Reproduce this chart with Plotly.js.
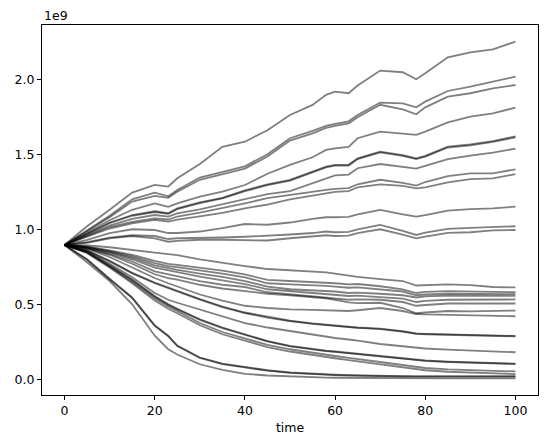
<!DOCTYPE html>
<html>
<head>
<meta charset="utf-8">
<script src="https://cdn.plot.ly/plotly-3.0.1.min.js"></script>
<style>html,body{margin:0;padding:0;background:#fff;}#chart{width:547px;height:448px;}</style>
</head>
<body>
<div id="chart"></div>
<script>
const time = [0,5,10,15,20,23,25,30,35,40,45,50,55,58,60,63,65,70,75,78,80,85,90,95,100];

// values in units of 1e9
const u1  = [0.895,1.02,1.13,1.245,1.296,1.285,1.34,1.435,1.55,1.584,1.66,1.762,1.829,1.896,1.918,1.907,1.958,2.058,2.047,2.0,2.04,2.147,2.18,2.2,2.251];
const u2  = [0.895,0.995,1.09,1.2,1.244,1.22,1.262,1.345,1.385,1.42,1.5,1.607,1.656,1.689,1.702,1.72,1.762,1.845,1.84,1.813,1.851,1.922,1.951,1.984,2.017];
const u3  = [0.895,0.99,1.08,1.185,1.222,1.21,1.25,1.33,1.365,1.405,1.485,1.591,1.64,1.676,1.689,1.706,1.747,1.83,1.8,1.767,1.813,1.884,1.907,1.94,1.962];
const u4  = [0.895,0.98,1.06,1.13,1.173,1.15,1.173,1.218,1.251,1.295,1.37,1.429,1.48,1.529,1.54,1.55,1.607,1.651,1.64,1.629,1.651,1.713,1.751,1.773,1.811];
const u5  = [0.895,0.97,1.045,1.095,1.12,1.107,1.14,1.18,1.21,1.26,1.3,1.329,1.384,1.418,1.429,1.43,1.473,1.518,1.495,1.473,1.49,1.551,1.566,1.588,1.62];
const u6  = [0.895,0.968,1.04,1.09,1.115,1.103,1.134,1.175,1.206,1.254,1.294,1.324,1.378,1.412,1.424,1.425,1.468,1.512,1.49,1.468,1.485,1.545,1.56,1.583,1.612];
const u7  = [0.895,0.96,1.025,1.07,1.095,1.084,1.106,1.132,1.166,1.205,1.235,1.255,1.307,1.34,1.36,1.365,1.407,1.435,1.418,1.404,1.422,1.467,1.491,1.511,1.537];
const u8  = [0.895,0.955,1.015,1.05,1.073,1.065,1.085,1.111,1.14,1.173,1.207,1.23,1.25,1.262,1.27,1.275,1.3,1.33,1.31,1.291,1.315,1.355,1.373,1.373,1.4];
const u9  = [0.895,0.95,1.005,1.04,1.062,1.051,1.065,1.086,1.11,1.14,1.165,1.2,1.225,1.24,1.25,1.255,1.28,1.3,1.29,1.273,1.28,1.313,1.335,1.34,1.367];
const u10 = [0.895,0.93,0.975,1.0,0.995,0.975,0.975,0.985,1.007,1.035,1.03,1.045,1.07,1.08,1.08,1.082,1.1,1.129,1.1,1.084,1.095,1.124,1.135,1.14,1.151];
const u11 = [0.895,0.915,0.945,0.96,0.955,0.935,0.94,0.94,0.945,0.95,0.955,0.965,0.975,0.985,0.98,0.982,1.0,1.029,0.99,0.962,0.978,1.002,1.009,1.015,1.02];
const u12 = [0.895,0.91,0.94,0.955,0.94,0.917,0.922,0.93,0.93,0.925,0.925,0.94,0.95,0.96,0.955,0.957,0.975,1.0,0.965,0.94,0.951,0.976,0.98,0.993,0.995];

const l1  = [0.895,0.892,0.88,0.865,0.845,0.835,0.828,0.8,0.775,0.755,0.735,0.728,0.72,0.712,0.705,0.69,0.683,0.668,0.655,0.625,0.628,0.632,0.627,0.615,0.612];
const l2  = [0.895,0.885,0.86,0.83,0.79,0.77,0.762,0.745,0.725,0.7,0.662,0.655,0.65,0.645,0.64,0.632,0.635,0.62,0.6,0.575,0.582,0.588,0.585,0.582,0.58];
const l3  = [0.895,0.883,0.855,0.82,0.775,0.755,0.748,0.728,0.705,0.68,0.64,0.632,0.628,0.622,0.618,0.61,0.612,0.6,0.585,0.56,0.565,0.57,0.568,0.566,0.568];
const l4  = [0.895,0.88,0.85,0.81,0.76,0.74,0.73,0.705,0.683,0.655,0.618,0.6,0.595,0.59,0.585,0.575,0.578,0.57,0.56,0.545,0.552,0.558,0.556,0.555,0.556];
const l5  = [0.895,0.878,0.845,0.8,0.745,0.725,0.715,0.685,0.66,0.635,0.6,0.588,0.578,0.57,0.565,0.555,0.557,0.55,0.538,0.515,0.522,0.53,0.53,0.528,0.532];
const l6  = [0.895,0.875,0.835,0.785,0.72,0.7,0.69,0.655,0.63,0.615,0.58,0.565,0.553,0.546,0.54,0.53,0.532,0.53,0.515,0.49,0.495,0.505,0.505,0.503,0.505];
const l7  = [0.895,0.873,0.83,0.77,0.7,0.675,0.665,0.63,0.605,0.585,0.57,0.56,0.55,0.54,0.529,0.512,0.507,0.51,0.475,0.44,0.445,0.455,0.452,0.455,0.458];
const l8  = [0.895,0.87,0.815,0.745,0.675,0.64,0.62,0.565,0.525,0.49,0.475,0.466,0.463,0.46,0.46,0.455,0.46,0.475,0.455,0.435,0.432,0.43,0.425,0.422,0.42];
const l9  = [0.895,0.86,0.79,0.71,0.645,0.61,0.59,0.535,0.485,0.445,0.415,0.39,0.372,0.362,0.357,0.35,0.345,0.337,0.32,0.305,0.303,0.3,0.296,0.292,0.289];
const l10 = [0.895,0.857,0.786,0.706,0.64,0.606,0.586,0.531,0.481,0.441,0.411,0.387,0.369,0.359,0.354,0.347,0.342,0.334,0.317,0.302,0.3,0.297,0.293,0.289,0.286];
const l11 = [0.895,0.855,0.77,0.68,0.575,0.53,0.51,0.465,0.42,0.375,0.345,0.32,0.295,0.285,0.275,0.265,0.258,0.235,0.218,0.207,0.205,0.198,0.192,0.186,0.18];
const l12 = [0.895,0.85,0.76,0.665,0.555,0.5,0.47,0.4,0.345,0.3,0.255,0.222,0.2,0.19,0.185,0.175,0.17,0.155,0.14,0.128,0.125,0.118,0.113,0.108,0.104];
const l13 = [0.895,0.848,0.756,0.66,0.55,0.496,0.466,0.396,0.341,0.296,0.252,0.219,0.197,0.187,0.182,0.172,0.167,0.152,0.137,0.125,0.122,0.115,0.11,0.105,0.101];
const l14 = [0.895,0.845,0.75,0.65,0.54,0.485,0.455,0.375,0.315,0.27,0.23,0.2,0.175,0.163,0.155,0.142,0.135,0.115,0.095,0.08,0.075,0.066,0.06,0.055,0.052];
const l15 = [0.895,0.84,0.745,0.64,0.525,0.47,0.44,0.36,0.3,0.255,0.215,0.185,0.16,0.148,0.14,0.128,0.12,0.1,0.083,0.07,0.06,0.05,0.043,0.038,0.034];
const d1  = [0.895,0.8,0.67,0.545,0.36,0.29,0.225,0.145,0.104,0.08,0.06,0.045,0.035,0.032,0.03,0.027,0.025,0.022,0.02,0.019,0.019,0.019,0.02,0.02,0.02];
const d2  = [0.895,0.797,0.666,0.541,0.356,0.286,0.221,0.142,0.101,0.077,0.057,0.043,0.033,0.03,0.028,0.025,0.023,0.021,0.019,0.018,0.018,0.018,0.018,0.018,0.018];
const d3  = [0.895,0.78,0.655,0.5,0.29,0.2,0.165,0.1,0.062,0.036,0.025,0.018,0.013,0.011,0.01,0.009,0.009,0.008,0.007,0.006,0.006,0.006,0.006,0.006,0.006];

const xTicks = [0,20,40,60,80,100];
const yTicks = [0,0.5,1,1.5,2];
const yTickText = ['0.0','0.5','1.0','1.5','2.0'];

const series = [u1,u2,u3,u4,u5,u6,u7,u8,u9,u10,u11,u12,l1,l2,l3,l4,l5,l6,l7,l8,l9,l10,l11,l12,l13,l14,l15,d1,d2,d3];

const traces = series.map(s => ({
  x: time, y: s, type: 'scatter', mode: 'lines',
  line: {color: 'rgba(0,0,0,0.5)', width: 1.8},
  hoverinfo: 'skip', showlegend: false
}));

const font = {family: 'DejaVu Sans, sans-serif', size: 12.5, color: '#000'};
const layout = {
  width: 547, height: 448,
  margin: {l: 42, r: 9, t: 25, b: 53},
  paper_bgcolor: '#fff', plot_bgcolor: '#fff',
  font: font, showlegend: false,
  xaxis: {
    range: [-5, 105], tickvals: xTicks, ticks: 'outside', ticklen: 4, tickwidth: 1, tickcolor: '#000',
    showline: true, mirror: true, linecolor: '#000', linewidth: 1,
    showgrid: false, zeroline: false,
    title: {text: 'time', font: font, standoff: 6}
  },
  yaxis: {
    range: [-0.105, 2.362], tickvals: yTicks, ticktext: yTickText, ticks: 'outside', ticklen: 4, tickwidth: 1, tickcolor: '#000',
    showline: true, mirror: true, linecolor: '#000', linewidth: 1,
    showgrid: false, zeroline: false
  },
  annotations: [{
    text: '1e9', xref: 'paper', yref: 'paper', x: 0, y: 1, xanchor: 'left', yanchor: 'bottom',
    showarrow: false, font: font, yshift: 0
  }]
};

Plotly.newPlot('chart', traces, layout, {displayModeBar: false, staticPlot: true});
</script>
</body>
</html>
